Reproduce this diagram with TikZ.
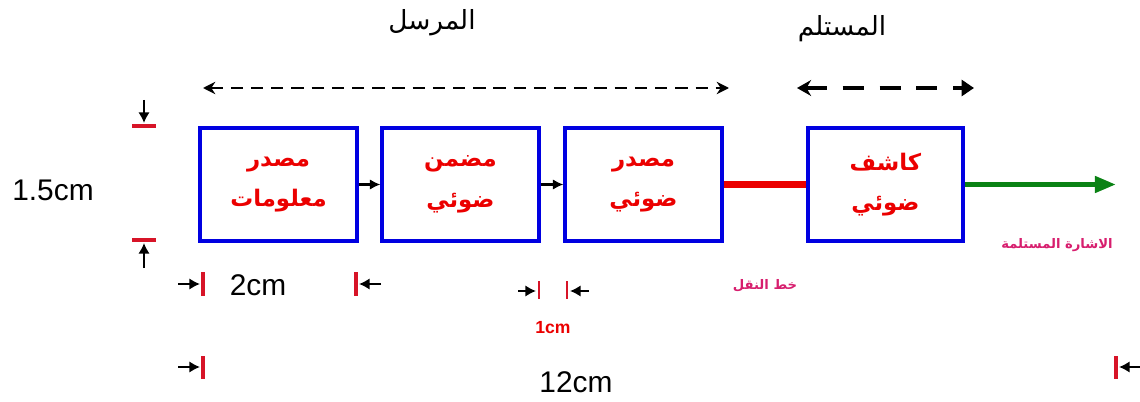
\documentclass[tikz,border=0pt]{standalone}
\usepackage{fontspec}
\setmainfont{Liberation Sans}
\newfontfamily\arabicfont[Script=Arabic]{DejaVu Sans}
\TeXXeTstate=1
\usetikzlibrary{arrows.meta}
\definecolor{bblue}{RGB}{0,0,225}
\definecolor{tred}{RGB}{235,0,0}
\definecolor{lmag}{RGB}{215,30,110}
\definecolor{sgreen}{RGB}{10,130,20}
\definecolor{tickred}{RGB}{215,20,40}
\begin{document}
\begin{tikzpicture}[x=0.02cm,y=-0.02cm,
  blockbox/.style={draw=bblue,line width=1.8pt,minimum width=3.14cm,minimum height=2.26cm,inner sep=0pt,align=center,text=tred,font=\arabicfont\bfseries\fontsize{13}{23}\selectfont},
  link/.style={line width=1.5pt,-{Latex[length=6pt,width=6pt]}},
  tickmark/.style={draw=tickred,line width=1.8pt},
  dimarrow/.style={line width=1.3pt,-{Latex[length=6pt,width=6.5pt]}},
  dimtext/.style={font=\fontsize{17}{17}\selectfont,inner sep=0pt},
  arlabel/.style={font=\arabicfont\fontsize{15}{15}\selectfont,inner sep=0pt},
  smalllabel/.style={font=\arabicfont\bfseries\fontsize{7.5}{7.5}\selectfont,text=lmag,inner sep=0pt}
]
\useasboundingbox (0,0) rectangle (1140,402);

% blocks
\node[blockbox] (b1) at (278.5,184.5) {\beginR مصدر\endR\\\beginR معلومات\endR};
\node[blockbox] (b2) at (460.5,184.5) {\beginR مضمن\endR\\\beginR ضوئي\endR};
\node[blockbox] (b3) at (643.5,184.5) {\beginR مصدر\endR\\\beginR ضوئي\endR};
\node[blockbox,minimum width=3.1cm] (b4) at (885.5,184.5) {\beginR كاشف\endR\\\beginR ضوئي\endR};

% connectors
\draw[link] (b1.east) -- (b2.west);
\draw[link] (b2.east) -- (b3.west);
\draw[tred,line width=4.5pt] (b3.east) -- (b4.west);
\coordinate (out) at (1116,184.5);
\draw[sgreen,line width=2.8pt,-{Triangle[length=12pt,width=9pt]}] (b4.east) -- (out);

% top labels and dashed arrows
\node[arlabel] (snd) at (432,23) {\beginR المرسل\endR};
\node[arlabel] (rcv) at (842,29) {\beginR المستلم\endR};
\coordinate (sA) at (203,88);
\coordinate (sB) at (729,88);
\coordinate (rA) at (797,88);
\coordinate (rB) at (974,88);
\draw[line width=1.6pt,dash pattern=on 7pt off 4.5pt,{Stealth[length=7pt,width=7pt]}-{Stealth[length=7pt,width=7pt]}] (sA) -- (sB);
\draw[line width=2.8pt,dash pattern=on 12pt off 9pt,{Stealth[length=8pt,width=9pt]}-{Triangle[length=7pt,width=9pt]}] (rA) -- (rB);

% side labels
\node[smalllabel] (tl) at (765,286) {\beginR خط النقل\endR};
\node[smalllabel] (rs) at (1057,245) {\beginR الاشارة المستلمة\endR};

% vertical dimension 1.5cm
\coordinate (vt1) at (132,126); \coordinate (vt2) at (156,126);
\coordinate (vb1) at (132,240); \coordinate (vb2) at (156,240);
\draw[tickmark] (vt1) -- (vt2);
\draw[tickmark] (vb1) -- (vb2);
\coordinate (va1) at (144,100); \coordinate (va2) at (144,123);
\coordinate (vc1) at (144,268); \coordinate (vc2) at (144,243);
\draw[dimarrow] (va1) -- (va2);
\draw[dimarrow] (vc1) -- (vc2);
\node[dimtext] (d15) at (53,190) {1.5cm};

% 2cm
\coordinate (t1a) at (203,272); \coordinate (t1b) at (203,296);
\coordinate (t2a) at (356,272); \coordinate (t2b) at (356,296);
\draw[tickmark] (t1a) -- (t1b);
\draw[tickmark] (t2a) -- (t2b);
\coordinate (a1s) at (178,284); \coordinate (a1e) at (200,284);
\coordinate (a2s) at (381,284); \coordinate (a2e) at (359,284);
\draw[dimarrow] (a1s) -- (a1e);
\draw[dimarrow] (a2s) -- (a2e);
\node[dimtext] (d2) at (258,285) {2cm};

% 1cm
\coordinate (t3a) at (539,281); \coordinate (t3b) at (539,299);
\coordinate (t4a) at (567,281); \coordinate (t4b) at (567,299);
\draw[tickred,line width=1.2pt] (t3a) -- (t3b);
\draw[tickred,line width=1.2pt] (t4a) -- (t4b);
\coordinate (a3s) at (518,291); \coordinate (a3e) at (536,291);
\coordinate (a4s) at (589,291); \coordinate (a4e) at (570,291);
\draw[dimarrow] (a3s) -- (a3e);
\draw[dimarrow] (a4s) -- (a4e);
\node[font=\bfseries\fontsize{10}{10}\selectfont,text=tred,inner sep=0pt] (d1) at (553,328) {1cm};

% 12cm
\coordinate (t5a) at (203,356); \coordinate (t5b) at (203,379);
\coordinate (t6a) at (1116,356); \coordinate (t6b) at (1116,379);
\draw[tickmark] (t5a) -- (t5b);
\draw[tickmark] (t6a) -- (t6b);
\coordinate (a5s) at (178,367); \coordinate (a5e) at (200,367);
\coordinate (a6s) at (1140,367); \coordinate (a6e) at (1119,367);
\draw[dimarrow] (a5s) -- (a5e);
\draw[dimarrow] (a6s) -- (a6e);
\node[dimtext] (d12) at (576,382) {12cm};
\end{tikzpicture}
\end{document}
